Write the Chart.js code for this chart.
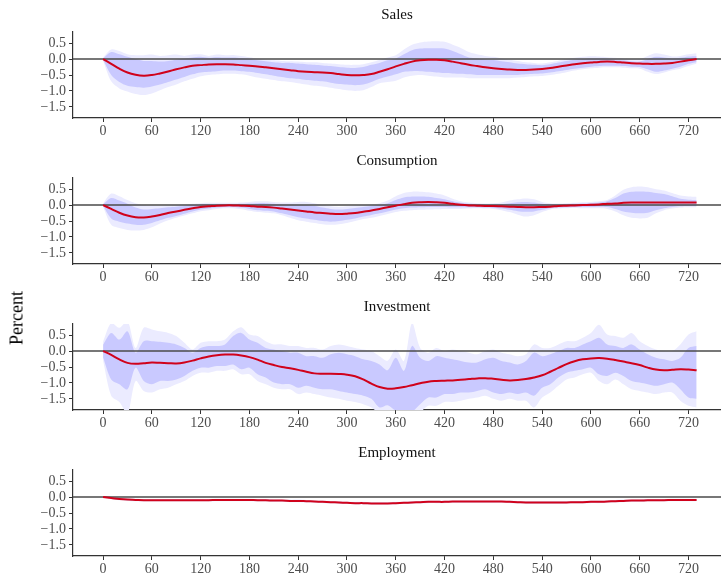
<!DOCTYPE html>
<html>
<head>
<meta charset="utf-8">
<script src="https://cdn.jsdelivr.net/npm/chart.js@4.4.1/dist/chart.umd.min.js"></script>
<style>
html,body{margin:0;padding:0;overflow:hidden;background:#fff;width:721px;height:575px;}
#wrap{position:relative;width:721px;height:575px;}
.pan{position:absolute;left:0;width:721px;height:146px;}
#ylab{position:absolute;left:17px;top:318px;transform:translate(-50%,-50%) rotate(-90deg);font-family:"Liberation Serif",serif;font-size:18px;color:#000;white-space:nowrap;}
</style>
</head>
<body>
<div id="wrap">
<canvas class="pan" id="c0" width="721" height="146" style="top:0px"></canvas>
<canvas class="pan" id="c1" width="721" height="146" style="top:146px"></canvas>
<canvas class="pan" id="c2" width="721" height="146" style="top:292px"></canvas>
<canvas class="pan" id="c3" width="721" height="146" style="top:438px"></canvas>
<div id="ylab">Percent</div>
</div>
<script>
const days = [0,10,20,30,40,50,60,70,80,90,
100,110,120,130,140,150,160,170,180,190,
200,210,220,230,240,250,260,270,280,290,
300,310,320,330,340,350,360,370,380,390,
400,410,420,430,440,450,460,470,480,490,
500,510,520,530,540,550,560,570,580,590,
600,610,620,630,640,650,660,670,680,690,
700,710,720,730];
const xTicks = [0,60,120,180,240,300,360,420,480,540,600,660,720];
const yTicks = [0.5,0,-0.5,-1,-1.5];
const panelTitles = ["Sales","Consumption","Investment","Employment"];

// Sales
const salesMid = [0,-0.15,-0.30,-0.42,-0.49,-0.52,-0.50,-0.45,-0.39,-0.32,
-0.26,-0.21,-0.19,-0.17,-0.16,-0.16,-0.17,-0.19,-0.21,-0.23,
-0.26,-0.29,-0.32,-0.35,-0.38,-0.40,-0.41,-0.42,-0.44,-0.47,
-0.50,-0.51,-0.50,-0.47,-0.40,-0.32,-0.23,-0.15,-0.08,-0.04,
-0.02,-0.02,-0.04,-0.08,-0.13,-0.18,-0.22,-0.26,-0.29,-0.31,
-0.33,-0.34,-0.34,-0.33,-0.31,-0.28,-0.24,-0.20,-0.16,-0.13,
-0.11,-0.09,-0.08,-0.09,-0.11,-0.13,-0.14,-0.15,-0.15,-0.14,
-0.12,-0.08,-0.04,0.00];
const salesOuterHi = [0.05,0.30,0.25,0.15,0.12,0.12,0.14,0.10,0.12,0.14,
0.10,0.14,0.15,0.10,0.14,0.12,0.13,0.10,0.06,0.02,
-0.02,-0.04,-0.06,-0.07,-0.08,-0.10,-0.10,-0.12,-0.14,-0.16,
-0.18,-0.18,-0.16,-0.10,-0.03,0.05,0.12,0.30,0.45,0.52,
0.55,0.56,0.54,0.45,0.35,0.22,0.15,0.10,0.07,0.02,
-0.02,-0.06,-0.10,-0.12,-0.14,-0.10,-0.05,0.00,0.04,0.07,
0.09,0.08,0.06,0.04,0.02,0.00,0.00,0.10,0.18,0.14,
0.08,0.10,0.15,0.18];
const salesInnerHi = [0.02,0.22,0.15,0.07,0.00,-0.06,-0.06,-0.08,-0.06,-0.02,
0.02,0.05,0.07,0.04,0.06,0.05,0.05,0.03,0.00,-0.04,
-0.07,-0.10,-0.12,-0.12,-0.14,-0.16,-0.18,-0.20,-0.22,-0.25,
-0.27,-0.28,-0.25,-0.18,-0.12,-0.04,0.02,0.15,0.28,0.33,
0.34,0.34,0.33,0.25,0.15,0.05,0.02,-0.01,-0.03,-0.07,
-0.10,-0.14,-0.16,-0.18,-0.19,-0.16,-0.11,-0.06,-0.02,0.00,
0.02,0.02,0.01,-0.02,-0.04,-0.07,-0.08,0.00,0.07,0.05,
0.02,0.04,0.08,0.10];
const salesInnerLo = [-0.02,-0.50,-0.72,-0.84,-0.88,-0.90,-0.86,-0.80,-0.72,-0.64,
-0.56,-0.48,-0.42,-0.40,-0.38,-0.36,-0.36,-0.38,-0.40,-0.44,
-0.48,-0.52,-0.56,-0.60,-0.62,-0.66,-0.68,-0.70,-0.74,-0.78,
-0.80,-0.82,-0.80,-0.72,-0.62,-0.55,-0.48,-0.40,-0.38,-0.38,
-0.40,-0.42,-0.44,-0.45,-0.46,-0.48,-0.50,-0.50,-0.50,-0.50,
-0.50,-0.50,-0.48,-0.46,-0.45,-0.42,-0.38,-0.34,-0.30,-0.27,
-0.24,-0.22,-0.21,-0.21,-0.22,-0.24,-0.25,-0.32,-0.40,-0.36,
-0.30,-0.24,-0.15,-0.10];
const salesOuterLo = [-0.05,-0.70,-0.92,-1.02,-1.10,-1.13,-1.08,-0.98,-0.88,-0.80,
-0.70,-0.62,-0.54,-0.50,-0.48,-0.46,-0.46,-0.48,-0.52,-0.58,
-0.62,-0.66,-0.70,-0.72,-0.76,-0.80,-0.84,-0.86,-0.90,-0.94,
-0.98,-1.00,-0.98,-0.88,-0.76,-0.72,-0.68,-0.58,-0.52,-0.50,
-0.52,-0.55,-0.58,-0.58,-0.58,-0.60,-0.60,-0.60,-0.60,-0.60,
-0.60,-0.58,-0.56,-0.54,-0.53,-0.50,-0.46,-0.41,-0.36,-0.32,
-0.29,-0.27,-0.26,-0.26,-0.27,-0.29,-0.30,-0.40,-0.47,-0.42,
-0.35,-0.30,-0.22,-0.15];

// Consumption
const consMid = [0,-0.12,-0.24,-0.33,-0.38,-0.39,-0.36,-0.31,-0.25,-0.20,
-0.15,-0.10,-0.06,-0.04,-0.02,-0.01,-0.01,-0.02,-0.03,-0.05,
-0.06,-0.08,-0.11,-0.14,-0.17,-0.20,-0.23,-0.25,-0.27,-0.28,
-0.27,-0.25,-0.21,-0.17,-0.12,-0.07,-0.02,0.03,0.07,0.09,
0.10,0.09,0.07,0.04,0.01,-0.01,-0.02,-0.03,-0.03,-0.04,
-0.05,-0.06,-0.07,-0.07,-0.06,-0.05,-0.03,-0.02,-0.01,0.00,
0.01,0.02,0.04,0.05,0.07,0.08,0.08,0.08,0.08,0.08,
0.08,0.08,0.08,0.08];
const consOuterHi = [0.05,0.36,0.28,0.16,0.06,0.00,-0.02,-0.03,-0.02,0.00,
0.02,0.04,0.06,0.07,0.07,0.07,0.07,0.08,0.10,0.12,
0.12,0.10,0.08,0.08,0.10,0.10,0.06,0.00,-0.04,-0.06,
-0.04,-0.02,0.00,0.02,0.06,0.14,0.28,0.38,0.42,0.42,
0.40,0.36,0.30,0.20,0.12,0.08,0.06,0.05,0.06,0.08,
0.14,0.18,0.21,0.18,0.10,0.06,0.05,0.06,0.07,0.09,
0.10,0.12,0.16,0.30,0.48,0.56,0.58,0.56,0.50,0.46,
0.38,0.30,0.27,0.26];
const consInnerHi = [0.02,0.22,0.14,0.04,-0.08,-0.14,-0.12,-0.10,-0.07,-0.05,
-0.03,0.00,0.02,0.03,0.03,0.03,0.03,0.04,0.05,0.06,
0.06,0.04,0.02,0.02,0.01,0.00,-0.03,-0.08,-0.12,-0.14,
-0.12,-0.09,-0.06,-0.03,0.00,0.06,0.16,0.24,0.27,0.27,
0.26,0.22,0.18,0.12,0.07,0.04,0.03,0.02,0.02,0.03,
0.06,0.09,0.10,0.08,0.04,0.02,0.02,0.03,0.04,0.05,
0.06,0.08,0.12,0.22,0.36,0.42,0.43,0.42,0.38,0.35,
0.28,0.20,0.17,0.16];
const consInnerLo = [-0.02,-0.42,-0.52,-0.58,-0.62,-0.62,-0.56,-0.48,-0.40,-0.34,
-0.27,-0.20,-0.14,-0.11,-0.08,-0.06,-0.06,-0.08,-0.12,-0.16,
-0.18,-0.20,-0.26,-0.32,-0.38,-0.42,-0.46,-0.50,-0.52,-0.50,
-0.46,-0.42,-0.36,-0.31,-0.26,-0.20,-0.14,-0.10,-0.08,-0.07,
-0.06,-0.06,-0.06,-0.07,-0.07,-0.07,-0.07,-0.08,-0.09,-0.11,
-0.15,-0.19,-0.21,-0.20,-0.15,-0.10,-0.08,-0.07,-0.06,-0.06,
-0.06,-0.05,-0.06,-0.12,-0.20,-0.24,-0.26,-0.24,-0.16,-0.10,
-0.06,-0.04,-0.03,-0.03];
const consOuterLo = [-0.05,-0.62,-0.72,-0.78,-0.80,-0.78,-0.70,-0.58,-0.48,-0.40,
-0.33,-0.26,-0.19,-0.16,-0.12,-0.10,-0.10,-0.13,-0.18,-0.22,
-0.24,-0.26,-0.32,-0.40,-0.48,-0.52,-0.56,-0.60,-0.62,-0.60,
-0.56,-0.50,-0.44,-0.40,-0.34,-0.28,-0.22,-0.18,-0.16,-0.15,
-0.14,-0.13,-0.12,-0.12,-0.12,-0.11,-0.10,-0.11,-0.12,-0.16,
-0.22,-0.30,-0.36,-0.32,-0.22,-0.14,-0.11,-0.10,-0.09,-0.10,
-0.10,-0.10,-0.12,-0.20,-0.32,-0.40,-0.42,-0.40,-0.26,-0.16,
-0.11,-0.08,-0.07,-0.07];

// Investment
const invMid = [0,-0.12,-0.26,-0.37,-0.40,-0.38,-0.36,-0.37,-0.38,-0.39,
-0.36,-0.30,-0.23,-0.17,-0.13,-0.11,-0.11,-0.14,-0.19,-0.27,
-0.37,-0.44,-0.50,-0.54,-0.59,-0.65,-0.70,-0.71,-0.71,-0.72,
-0.74,-0.79,-0.89,-1.02,-1.13,-1.18,-1.17,-1.13,-1.07,-1.01,
-0.96,-0.94,-0.93,-0.92,-0.90,-0.88,-0.86,-0.85,-0.87,-0.90,
-0.92,-0.91,-0.88,-0.83,-0.76,-0.65,-0.53,-0.41,-0.32,-0.26,
-0.23,-0.22,-0.24,-0.28,-0.33,-0.38,-0.44,-0.52,-0.58,-0.60,
-0.59,-0.57,-0.58,-0.60];
const invOuterHi = [0.30,0.88,0.73,0.94,0.10,0.73,0.68,0.62,0.57,0.47,
0.26,0.05,0.26,0.31,0.31,0.36,0.62,0.75,0.52,0.47,
0.31,0.21,0.21,0.16,0.16,0.10,0.10,0.05,0.16,0.21,
0.16,0.10,0.05,0.00,-0.16,-0.30,0.05,-0.31,0.88,0.10,
-0.05,0.10,0.00,0.05,0.00,-0.05,-0.10,0.00,0.05,-0.05,
-0.10,-0.16,-0.10,0.21,0.10,0.10,0.21,0.31,0.31,0.42,
0.57,0.83,0.52,0.47,0.42,0.57,0.31,0.16,0.05,0.00,
0.00,0.21,0.52,0.62];
const invInnerHi = [0.20,0.57,0.36,0.62,-0.05,0.31,0.31,0.29,0.26,0.21,
0.10,-0.05,0.10,0.16,0.16,0.21,0.47,0.57,0.36,0.26,
0.10,0.05,0.00,-0.05,-0.05,-0.16,-0.16,-0.21,-0.10,-0.05,
-0.10,-0.16,-0.26,-0.31,-0.42,-0.60,-0.21,-0.62,0.16,-0.21,
-0.31,-0.16,-0.21,-0.26,-0.31,-0.36,-0.36,-0.26,-0.21,-0.31,
-0.36,-0.42,-0.31,-0.05,-0.16,-0.10,0.00,0.10,0.10,0.21,
0.31,0.42,0.21,0.16,0.10,0.21,0.05,-0.10,-0.21,-0.26,
-0.31,-0.21,0.10,0.16];
const invInnerLo = [-0.20,-0.89,-1.04,-1.20,-0.52,-0.94,-1.04,-0.94,-0.94,-0.89,
-0.78,-0.62,-0.52,-0.52,-0.47,-0.47,-0.42,-0.57,-0.52,-0.73,
-0.83,-0.99,-1.04,-1.04,-1.15,-1.09,-1.15,-1.20,-1.20,-1.25,
-1.30,-1.35,-1.40,-1.50,-1.77,-1.70,-1.87,-1.90,-1.90,-1.67,
-1.46,-1.46,-1.35,-1.35,-1.30,-1.30,-1.25,-1.20,-1.30,-1.35,
-1.30,-1.35,-1.30,-1.40,-1.15,-1.04,-0.83,-0.68,-0.62,-0.57,
-0.52,-0.73,-0.78,-0.68,-0.78,-0.94,-0.99,-1.04,-1.09,-1.04,
-0.99,-1.20,-1.46,-1.50];
const invOuterLo = [-0.30,-1.40,-1.60,-1.95,-0.94,-1.25,-1.30,-1.20,-1.15,-1.04,
-0.94,-0.78,-0.68,-0.68,-0.62,-0.62,-0.57,-0.73,-0.73,-0.94,
-1.04,-1.15,-1.20,-1.20,-1.35,-1.30,-1.35,-1.40,-1.46,-1.50,
-1.56,-1.60,-1.67,-1.77,-1.95,-2.00,-2.00,-2.10,-2.20,-1.93,
-1.72,-1.72,-1.60,-1.60,-1.56,-1.50,-1.46,-1.40,-1.50,-1.56,
-1.50,-1.56,-1.56,-1.77,-1.46,-1.30,-1.09,-0.89,-0.83,-0.73,
-0.68,-0.94,-1.04,-0.89,-1.04,-1.20,-1.25,-1.30,-1.35,-1.30,
-1.30,-1.56,-1.72,-1.77];

// Employment
const empMid = [0,-0.03,-0.06,-0.08,-0.09,-0.10,-0.10,-0.10,-0.10,-0.10,
-0.10,-0.10,-0.10,-0.10,-0.09,-0.09,-0.09,-0.09,-0.09,-0.10,
-0.10,-0.11,-0.11,-0.12,-0.12,-0.13,-0.14,-0.15,-0.16,-0.17,
-0.18,-0.19,-0.19,-0.20,-0.20,-0.20,-0.19,-0.18,-0.17,-0.16,
-0.15,-0.15,-0.15,-0.14,-0.14,-0.14,-0.14,-0.14,-0.14,-0.14,
-0.15,-0.16,-0.17,-0.17,-0.17,-0.17,-0.17,-0.17,-0.16,-0.16,
-0.15,-0.15,-0.14,-0.13,-0.12,-0.11,-0.11,-0.10,-0.10,-0.10,
-0.09,-0.09,-0.09,-0.09];
const empOuterHi = [0.01,0.01,-0.02,-0.04,-0.05,-0.06,-0.06,-0.06,-0.06,-0.06,
-0.06,-0.06,-0.06,-0.06,-0.05,-0.05,-0.05,-0.05,-0.05,-0.06,
-0.06,-0.07,-0.07,-0.08,-0.08,-0.09,-0.10,-0.11,-0.12,-0.13,
-0.14,-0.15,-0.15,-0.16,-0.16,-0.16,-0.15,-0.14,-0.13,-0.12,
-0.11,-0.11,-0.11,-0.10,-0.10,-0.10,-0.10,-0.10,-0.10,-0.10,
-0.11,-0.12,-0.13,-0.13,-0.13,-0.13,-0.13,-0.13,-0.12,-0.12,
-0.11,-0.11,-0.10,-0.09,-0.08,-0.07,-0.07,-0.06,-0.06,-0.06,
-0.05,-0.05,-0.05,-0.05];
const empInnerHi = [0.00,-0.01,-0.04,-0.06,-0.07,-0.08,-0.08,-0.08,-0.08,-0.08,
-0.08,-0.08,-0.08,-0.08,-0.07,-0.07,-0.07,-0.07,-0.07,-0.08,
-0.08,-0.09,-0.09,-0.10,-0.10,-0.11,-0.12,-0.13,-0.14,-0.15,
-0.16,-0.17,-0.17,-0.18,-0.18,-0.18,-0.17,-0.16,-0.15,-0.14,
-0.13,-0.13,-0.13,-0.12,-0.12,-0.12,-0.12,-0.12,-0.12,-0.12,
-0.13,-0.14,-0.15,-0.15,-0.15,-0.15,-0.15,-0.15,-0.14,-0.14,
-0.13,-0.13,-0.12,-0.11,-0.10,-0.09,-0.09,-0.08,-0.08,-0.08,
-0.07,-0.07,-0.07,-0.07];
const empInnerLo = [0.00,-0.05,-0.08,-0.10,-0.11,-0.12,-0.12,-0.12,-0.12,-0.12,
-0.12,-0.12,-0.12,-0.12,-0.11,-0.11,-0.11,-0.11,-0.11,-0.12,
-0.12,-0.13,-0.13,-0.14,-0.14,-0.15,-0.16,-0.17,-0.18,-0.19,
-0.20,-0.21,-0.21,-0.22,-0.22,-0.22,-0.21,-0.20,-0.19,-0.18,
-0.17,-0.17,-0.17,-0.16,-0.16,-0.16,-0.16,-0.16,-0.16,-0.16,
-0.17,-0.18,-0.19,-0.19,-0.19,-0.19,-0.19,-0.19,-0.18,-0.18,
-0.17,-0.17,-0.16,-0.15,-0.14,-0.13,-0.13,-0.12,-0.12,-0.12,
-0.11,-0.11,-0.11,-0.11];
const empOuterLo = [-0.01,-0.07,-0.10,-0.12,-0.13,-0.14,-0.14,-0.14,-0.14,-0.14,
-0.14,-0.14,-0.14,-0.14,-0.13,-0.13,-0.13,-0.13,-0.13,-0.14,
-0.14,-0.15,-0.15,-0.16,-0.16,-0.17,-0.18,-0.19,-0.20,-0.21,
-0.22,-0.23,-0.23,-0.24,-0.24,-0.24,-0.23,-0.22,-0.21,-0.20,
-0.19,-0.19,-0.19,-0.18,-0.18,-0.18,-0.18,-0.18,-0.18,-0.18,
-0.19,-0.20,-0.21,-0.21,-0.21,-0.21,-0.21,-0.21,-0.20,-0.20,
-0.19,-0.19,-0.18,-0.17,-0.16,-0.15,-0.15,-0.14,-0.14,-0.14,
-0.13,-0.13,-0.13,-0.13];

const panelSeries = [
  [salesMid, salesInnerHi, salesInnerLo, salesOuterHi, salesOuterLo],
  [consMid, consInnerHi, consInnerLo, consOuterHi, consOuterLo],
  [invMid, invInnerHi, invInnerLo, invOuterHi, invOuterLo],
  [empMid, empInnerHi, empInnerLo, empOuterHi, empOuterLo]
];

const SERIF = '"Liberation Serif", "DejaVu Serif", serif';
const pts = arr => days.map((d, i) => ({x: d, y: arr[i]}));
const fmtY = v => v.toFixed(1).replace('-', '\u2212');

const zeroLine = {
  id: 'zeroLine',
  afterDatasetDraw(chart, args) {
    if (args.index !== 1) return;
    const {ctx, chartArea, scales} = chart;
    const y = scales.y.getPixelForValue(0);
    ctx.save();
    ctx.strokeStyle = '#4a4a4a';
    ctx.lineWidth = 1.4;
    ctx.beginPath();
    ctx.moveTo(chartArea.left, y);
    ctx.lineTo(chartArea.right, y);
    ctx.stroke();
    ctx.restore();
  }
};
const panelTitle = {
  id: 'panelTitle',
  afterDraw(chart, args, opts) {
    const {ctx, chartArea} = chart;
    ctx.save();
    ctx.font = '15px ' + SERIF;
    ctx.fillStyle = '#111';
    ctx.textAlign = 'center';
    ctx.textBaseline = 'middle';
    ctx.fillText(opts.text, (chartArea.left + chartArea.right) / 2, 15);
    ctx.restore();
  }
};

panelSeries.forEach((s, p) => {
  const [mid, iHi, iLo, oHi, oLo] = s;
  const band = (arr, fill, color) => ({
    data: pts(arr), fill: fill, backgroundColor: color, borderColor: 'rgba(0,0,0,0)',
    borderWidth: 0, pointRadius: 0, tension: 0.3
  });
  new Chart(document.getElementById('c' + p), {
    type: 'line',
    data: {
      datasets: [
        {data: pts(mid), borderColor: '#D0021B', borderWidth: 2, pointRadius: 0, fill: false, tension: 0.4},
        band(iHi, '+1', '#C9C9FF'),
        band(iLo, false, 'rgba(0,0,0,0)'),
        band(oHi, '+1', '#EBEBFF'),
        band(oLo, false, 'rgba(0,0,0,0)')
      ]
    },
    options: {
      responsive: false, animation: false, devicePixelRatio: 1,
      layout: {padding: {top: 32, left: 0, right: 0, bottom: 0}},
      plugins: {
        legend: {display: false}, tooltip: {enabled: false}, title: {display: false},
        filler: {propagate: false, drawTime: 'beforeDatasetDraw'},
        panelTitle: {text: panelTitles[p]}
      },
      scales: {
        x: {
          type: 'linear', min: -37, max: 760,
          afterBuildTicks: sc => { sc.ticks = xTicks.map(v => ({value: v})); },
          afterFit: sc => { sc.height = 28; },
          grid: {drawOnChartArea: false, drawTicks: true, tickLength: 4, color: '#333', lineWidth: 1},
          border: {display: true, color: '#333', width: 1.2},
          ticks: {color: '#4D4D4D', font: {family: SERIF, size: 14}, padding: 1, maxRotation: 0, autoSkip: false,
                  callback: v => String(v)}
        },
        y: {
          type: 'linear', min: -1.85, max: 0.85,
          afterBuildTicks: sc => { sc.ticks = yTicks.map(v => ({value: v})); },
          afterFit: sc => { sc.width = 73; },
          grid: {drawOnChartArea: false, drawTicks: true, tickLength: 4, color: '#333', lineWidth: 1},
          border: {display: true, color: '#333', width: 1.2},
          ticks: {color: '#4D4D4D', font: {family: SERIF, size: 14}, padding: 3, autoSkip: false,
                  callback: v => fmtY(v)}
        }
      }
    },
    plugins: [zeroLine, panelTitle]
  });
});
</script>
</body>
</html>
